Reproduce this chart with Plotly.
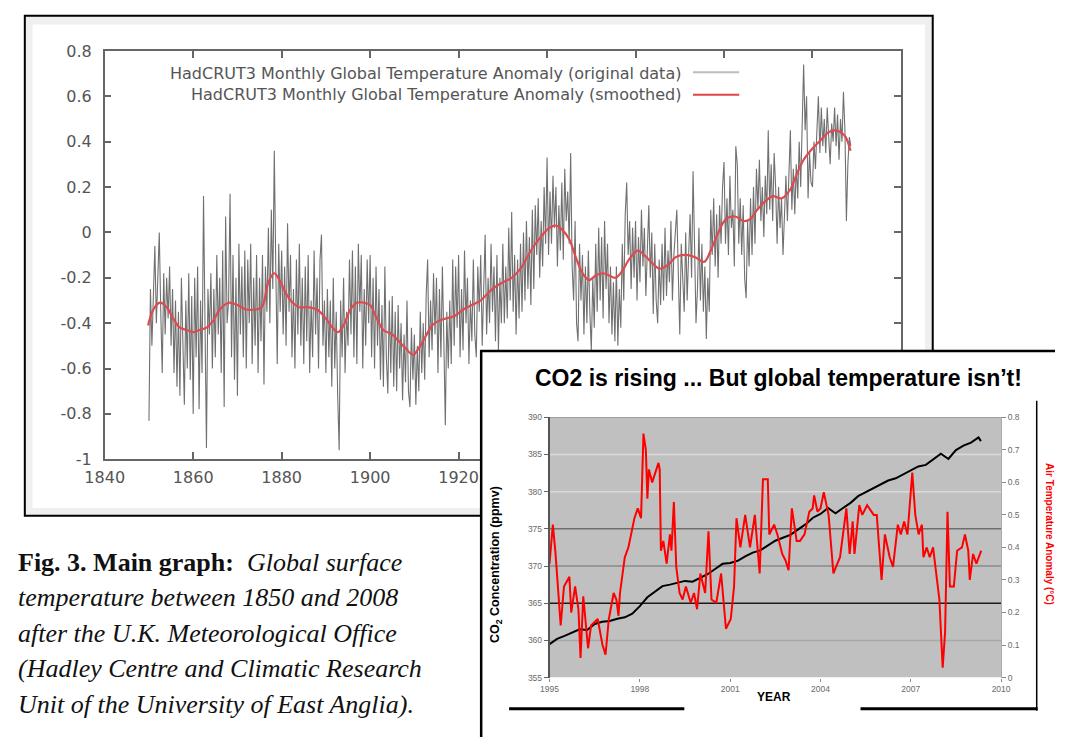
import plotly.graph_objects as go

W, H = 1075, 747

# ---------------- main chart data (HadCRUT3) ----------------
hadcrut_start = 1850
hadcrut_monthly = [
    -0.83, -0.25, -0.50, -0.30, -0.06, -0.40, -0.15, 0.00, -0.35, -0.62, -0.18, -0.45, -0.20, -0.38, -0.15,
    -0.50, -0.25, -0.62, -0.30, -0.68, -0.35, -0.72, -0.20, -0.55, -0.76, -0.30, -0.60, -0.18, -0.65, -0.28,
    -0.80, -0.20, -0.55, -0.15, -0.78, -0.30, -0.62, 0.16, -0.50, -0.95, -0.25, -0.45, -0.18, -0.60, -0.25,
    -0.55, -0.10, -0.45, -0.20, -0.62, -0.08, -0.77, 0.07, -0.40, -0.30, 0.17, -0.55, -0.10, -0.65, -0.20,
    -0.72, -0.05, -0.45, -0.15, -0.55, -0.08, -0.60, -0.12, -0.40, -0.05, -0.58, -0.20, -0.50, -0.10, -0.62,
    -0.20, -0.48, -0.10, -0.67, -0.15, -0.35, 0.02, -0.40, 0.10, -0.25, 0.36, -0.15, -0.58, -0.05, -0.35,
    -0.08, -0.45, -0.15, -0.50, 0.04, -0.35, -0.10, -0.55, -0.25, -0.60, -0.12, -0.45, -0.05, -0.50, -0.20,
    -0.58, -0.15, -0.48, -0.10, -0.62, -0.30, -0.55, -0.08, -0.45, -0.20, -0.60, -0.12, -0.01, -0.50, -0.30,
    -0.62, -0.25, -0.55, -0.30, -0.68, -0.20, -0.60, -0.35, -0.72, -0.96, -0.30, -0.55, -0.20, -0.62, -0.35,
    -0.50, -0.12, -0.45, -0.08, -0.55, -0.15, -0.58, -0.05, -0.35, -0.10, -0.60, -0.25, -0.50, -0.12, -0.40,
    -0.10, -0.55, -0.20, -0.60, -0.15, -0.50, -0.25, -0.65, -0.32, -0.68, -0.15, -0.55, -0.71, -0.30, -0.62,
    -0.28, -0.68, -0.35, -0.70, -0.32, -0.60, -0.40, -0.74, -0.45, -0.66, -0.30, -0.70, -0.77, -0.42, -0.65,
    -0.45, -0.76, -0.50, -0.70, -0.35, -0.62, -0.40, -0.65, -0.28, -0.12, -0.55, -0.30, -0.52, -0.18, -0.45,
    -0.20, -0.62, -0.25, -0.55, -0.15, -0.48, -0.85, -0.35, -0.60, -0.30, -0.58, -0.12, -0.50, -0.15, -0.42,
    -0.10, -0.55, -0.25, -0.52, -0.08, -0.40, -0.20, -0.58, -0.30, -0.48, -0.12, -0.45, -0.55, -0.15, -0.35,
    -0.10, -0.50, -0.18, -0.01, -0.45, -0.20, -0.40, -0.05, -0.35, -0.15, -0.48, -0.10, -0.52, -0.20, -0.40,
    -0.05, -0.40, -0.15, -0.38, 0.02, -0.30, 0.09, -0.35, -0.10, -0.45, -0.12, -0.38, -0.05, -0.35, 0.00,
    -0.30, 0.05, -0.25, -0.02, -0.32, 0.10, -0.25, 0.12, -0.10, 0.15, -0.20, 0.05, -0.15, 0.20, -0.05,
    0.33, -0.10, 0.18, -0.05, 0.25, 0.02, 0.20, -0.15, 0.12, -0.08, 0.22, -0.12, 0.28, 0.05, 0.18,
    -0.05, 0.35, -0.15, -0.30, 0.05, -0.40, -0.48, -0.05, -0.30, -0.10, -0.45, -0.15, -0.40, -0.08, -0.35,
    -0.52, -0.20, -0.42, -0.05, -0.35, 0.02, -0.30, -0.02, -0.38, 0.05, -0.25, -0.05, -0.40, -0.15, -0.45,
    -0.22, -0.48, -0.15, -0.50, -0.25, -0.42, -0.05, -0.30, 0.08, 0.22, -0.10, 0.05, -0.25, 0.02, -0.20,
    0.05, -0.30, -0.02, -0.22, 0.10, -0.15, 0.02, -0.28, -0.05, 0.12, -0.20, 0.00, -0.36, -0.05, -0.30,
    -0.40, -0.12, -0.32, -0.05, -0.30, 0.02, -0.28, -0.08, -0.22, 0.05, -0.30, -0.10, -0.02, 0.10, -0.18,
    -0.45, -0.05, -0.25, -0.35, 0.00, -0.30, -0.10, 0.08, -0.20, 0.27, -0.05, -0.40, -0.25, 0.02, -0.30,
    -0.05, -0.35, -0.15, -0.47, -0.20, -0.35, 0.10, -0.10, 0.15, -0.15, 0.08, -0.20, 0.12, -0.05, 0.20,
    0.31, -0.05, 0.15, -0.10, 0.25, 0.02, 0.10, -0.15, 0.38, 0.30, -0.05, 0.15, -0.10, 0.12, -0.20,
    -0.29, 0.05, -0.15, 0.15, -0.10, 0.20, -0.05, 0.28, 0.10, 0.32, 0.05, 0.20, -0.02, 0.25, 0.08,
    0.45, 0.10, 0.30, 0.05, 0.35, 0.20, -0.05, 0.20, 0.02, 0.15, -0.10, 0.10, 0.25, 0.05, 0.30,
    0.45, 0.10, 0.28, 0.08, 0.30, 0.15, 0.40, 0.20, 0.50, 0.74, 0.45, 0.60, 0.15, 0.35, 0.22,
    0.20, 0.40, 0.28, 0.45, 0.60, 0.35, 0.55, 0.38, 0.50, 0.35, 0.55, 0.42, 0.30, 0.48, 0.40,
    0.55, 0.38, 0.52, 0.32, 0.50, 0.40, 0.62, 0.45, 0.05, 0.30, 0.42, 0.38,
]
hadcrut_years = [hadcrut_start + i / 3 for i in range(len(hadcrut_monthly))]

smooth_years = [
    1849.8, 1851, 1852.5, 1854, 1855.5, 1857, 1858.5, 1860, 1861.5, 1863, 1864.5, 1866, 1868, 1870,
    1872, 1874, 1875.5, 1877, 1878.3, 1879.5, 1881, 1882.5, 1884, 1886, 1888, 1890, 1891.5, 1892.7,
    1894, 1895.5, 1897, 1898.6, 1900, 1901.5, 1903, 1905, 1906.5, 1908, 1909.7, 1911, 1912.5, 1914,
    1915.5, 1917, 1919, 1921, 1923, 1925, 1927.6, 1930, 1932, 1934, 1935.5, 1937, 1939, 1940.5, 1942,
    1943.5, 1945, 1946.5, 1948, 1949.5, 1951, 1952.5, 1954, 1955.5, 1957, 1958.5, 1960.5, 1962,
    1963.5, 1965.5, 1967.5, 1969, 1970.5, 1972, 1973.5, 1975.5, 1977, 1978.5, 1980.5, 1982.5, 1984.5,
    1986, 1987.5, 1989.5, 1991, 1993, 1995, 1996.5, 1998, 2000, 2002, 2003.5, 2005, 2006.5, 2007.5,
    2008.6,
]
smooth_vals = [
    -0.41, -0.34, -0.31, -0.33, -0.38, -0.42, -0.43, -0.44, -0.43, -0.42, -0.39, -0.34, -0.31, -0.32,
    -0.34, -0.34, -0.33, -0.22, -0.18, -0.21, -0.27, -0.31, -0.33, -0.33, -0.34, -0.38, -0.42, -0.44,
    -0.41, -0.34, -0.31, -0.31, -0.32, -0.38, -0.43, -0.45, -0.48, -0.51, -0.54, -0.51, -0.46, -0.41,
    -0.39, -0.38, -0.37, -0.34, -0.32, -0.30, -0.25, -0.22, -0.20, -0.16, -0.11, -0.06, -0.01, 0.02,
    0.03, 0.01, -0.03, -0.11, -0.18, -0.21, -0.19, -0.18, -0.19, -0.20, -0.17, -0.12, -0.08, -0.10,
    -0.13, -0.16, -0.14, -0.11, -0.10, -0.10, -0.11, -0.13, -0.08, -0.01, 0.06, 0.07, 0.05, 0.06,
    0.10, 0.14, 0.16, 0.15, 0.19, 0.26, 0.32, 0.37, 0.41, 0.44, 0.45, 0.44, 0.42, 0.36,
]

main_xticks = [1840, 1860, 1880, 1900, 1920, 1940, 1960, 1980, 2000, 2020]
main_xlabels = ["1840", "1860", "1880", "1900", "1920", "1940", "1960", "1980", "2000", "2020"]
main_yticks = [0.8, 0.6, 0.4, 0.2, 0, -0.2, -0.4, -0.6, -0.8, -1]
main_ylabels = ["0.8", "0.6", "0.4", "0.2", "0", "-0.2", "-0.4", "-0.6", "-0.8", "-1"]
legend_labels = [
    "HadCRUT3 Monthly Global Temperature Anomaly (original data)",
    "HadCRUT3 Monthly Global Temperature Anomaly (smoothed)",
]

# ---------------- inset data (CO2 vs temperature) ----------------
co2_years = [
    1995.00, 1995.25, 1995.50, 1995.75, 1996.00, 1996.25, 1996.50, 1996.75, 1997.00, 1997.25,
    1997.50, 1997.75, 1998.00, 1998.25, 1998.50, 1998.75, 1999.00, 1999.25, 1999.50, 1999.75,
    2000.00, 2000.25, 2000.50, 2000.75, 2001.00, 2001.25, 2001.50, 2001.75, 2002.00, 2002.25,
    2002.50, 2002.75, 2003.00, 2003.25, 2003.50, 2003.75, 2004.00, 2004.25, 2004.50, 2004.75,
    2005.00, 2005.25, 2005.50, 2005.75, 2006.00, 2006.25, 2006.50, 2006.75, 2007.00, 2007.25,
    2007.50, 2007.75, 2008.00, 2008.25, 2008.50, 2008.75, 2009.00, 2009.25, 2009.33,
]
co2_ppmv = [
    359.5, 360.2, 360.6, 361.0, 361.5, 361.4, 362.2, 362.5, 362.6, 362.9,
    363.1, 363.6, 364.6, 365.8, 366.6, 367.3, 367.5, 367.8, 368.0, 367.9,
    368.4, 368.9, 369.6, 370.3, 370.4, 370.7, 371.3, 371.8, 372.1, 372.7,
    373.4, 373.8, 374.2, 374.9, 375.6, 376.5, 377.0, 377.8, 377.1, 377.8,
    378.5, 379.4, 379.9, 380.5, 381.0, 381.5, 381.8, 382.3, 382.8, 383.4,
    383.6, 384.3, 385.1, 384.4, 385.6, 386.2, 386.6, 387.3, 386.8,
]
temp_years = [
    1995.00, 1995.11, 1995.20, 1995.27, 1995.37, 1995.48, 1995.60, 1995.66, 1995.72, 1995.85,
    1995.96, 1996.03, 1996.12, 1996.28, 1996.38, 1996.50, 1996.60, 1996.76, 1996.86, 1996.97,
    1997.13, 1997.22, 1997.29, 1997.34, 1997.50, 1997.62, 1997.72, 1997.82, 1997.93, 1998.04,
    1998.12, 1998.20, 1998.25, 1998.30, 1998.41, 1998.52, 1998.62, 1998.66, 1998.70, 1998.78,
    1998.89, 1999.00, 1999.05, 1999.13, 1999.21, 1999.32, 1999.42, 1999.53, 1999.69, 1999.80,
    1999.90, 2000.01, 2000.17, 2000.28, 2000.38, 2000.54, 2000.70, 2000.86, 2001.02, 2001.13,
    2001.21, 2001.34, 2001.50, 2001.66, 2001.82, 2001.98, 2002.09, 2002.25, 2002.30, 2002.46,
    2002.57, 2002.73, 2002.84, 2002.94, 2003.05, 2003.21, 2003.32, 2003.47, 2003.63, 2003.74,
    2003.79, 2003.90, 2004.00, 2004.11, 2004.27, 2004.43, 2004.65, 2004.86, 2004.97, 2005.07,
    2005.13, 2005.29, 2005.39, 2005.55, 2005.77, 2005.87, 2006.03, 2006.14, 2006.30, 2006.41,
    2006.57, 2006.67, 2006.78, 2006.89, 2007.05, 2007.15, 2007.26, 2007.37, 2007.42, 2007.53,
    2007.63, 2007.74, 2007.85, 2007.95, 2008.06, 2008.14, 2008.22, 2008.30, 2008.43, 2008.54,
    2008.70, 2008.80, 2008.91, 2008.96, 2009.07, 2009.18, 2009.34,
]
temp_anom = [
    0.35, 0.47, 0.38, 0.28, 0.16, 0.28, 0.30, 0.31, 0.20, 0.28,
    0.21, 0.06, 0.25, 0.09, 0.16, 0.17, 0.18, 0.10, 0.07, 0.18,
    0.26, 0.24, 0.19, 0.26, 0.37, 0.40, 0.45, 0.49, 0.52, 0.49,
    0.75, 0.70, 0.55, 0.64, 0.60, 0.63, 0.66, 0.64, 0.39, 0.42,
    0.35, 0.44, 0.39, 0.54, 0.34, 0.26, 0.24, 0.28, 0.23, 0.26,
    0.21, 0.32, 0.26, 0.45, 0.24, 0.23, 0.32, 0.15, 0.18, 0.28,
    0.49, 0.40, 0.50, 0.40, 0.50, 0.32, 0.61, 0.61, 0.44, 0.47,
    0.44, 0.38, 0.36, 0.33, 0.52, 0.42, 0.42, 0.44, 0.51, 0.52,
    0.56, 0.51, 0.52, 0.57, 0.50, 0.32, 0.37, 0.52, 0.38, 0.48,
    0.38, 0.53, 0.50, 0.53, 0.50, 0.50, 0.30, 0.44, 0.37, 0.34,
    0.47, 0.44, 0.48, 0.44, 0.63, 0.50, 0.44, 0.47, 0.37, 0.40,
    0.37, 0.40, 0.32, 0.24, 0.03, 0.14, 0.51, 0.28, 0.28, 0.39,
    0.40, 0.44, 0.39, 0.30, 0.38, 0.35, 0.39,
]
inset_xticks = [1995, 1998, 2001, 2004, 2007, 2010]
inset_xlabels = ["1995", "1998", "2001", "2004", "2007", "2010"]
co2_ticks = [355, 360, 365, 370, 375, 380, 385, 390]
temp_ticks = [0, 0.1, 0.2, 0.3, 0.4, 0.5, 0.6, 0.7, 0.8]
grid_levels = [360, 365, 370, 375, 380, 385, 390]
grid_colors = ["#a8a8a8", "#1a1a1a", "#8a8a8a", "#6e6e6e", "#dadada", "#dadada", "#8c8c8c"]

caption_lines = [
    "<b>Fig. 3. Main graph:</b>\u00a0 <i>Global surface</i>",
    "<i>temperature between 1850 and 2008</i>",
    "<i>after the U.K. Meteorological Office</i>",
    "<i>(Hadley Centre and Climatic Research</i>",
    "<i>Unit of the University of East Anglia).</i>",
]


def px(x):
    return x / W


def py(y):
    return 1 - y / H


fig = go.Figure()

fig.add_trace(go.Scatter(x=hadcrut_years, y=hadcrut_monthly, mode="lines",
                         line=dict(color="#707070", width=1.1), name=legend_labels[0],
                         showlegend=False, xaxis="x", yaxis="y"))
fig.add_trace(go.Scatter(x=smooth_years, y=smooth_vals, mode="lines",
                         line=dict(color="#dc4b4f", width=2.2, shape="spline"), name=legend_labels[1],
                         showlegend=False, xaxis="x", yaxis="y"))
# empty subplot whose white background hides the main chart behind the inset
fig.add_trace(go.Scatter(x=[None], y=[None], mode="lines", showlegend=False,
                         hoverinfo="skip", xaxis="x2", yaxis="y2"))
fig.add_trace(go.Scatter(x=co2_years, y=co2_ppmv, mode="lines",
                         line=dict(color="#000000", width=2), name="CO2",
                         showlegend=False, xaxis="x3", yaxis="y3"))
fig.add_trace(go.Scatter(x=temp_years, y=temp_anom, mode="lines",
                         line=dict(color="#ff0000", width=2), name="Temperature",
                         showlegend=False, xaxis="x3", yaxis="y4"))

main_font = dict(family="DejaVu Sans", size=16, color="#555555")
inset_font = dict(family="Liberation Sans", size=8.5, color="#6a6a6a")

fig.update_layout(
    width=W, height=H,
    margin=dict(l=0, r=0, t=0, b=0),
    paper_bgcolor="white", plot_bgcolor="white",
    showlegend=False,
    xaxis=dict(domain=[px(88), px(915)], range=[1840, 2020], anchor="y",
               tickvals=main_xticks, ticktext=main_xlabels, ticks="inside", ticklen=7,
               tickwidth=1.5, tickcolor="#666666", showline=True, linecolor="#666666",
               linewidth=1.5, mirror="allticks", showgrid=False, zeroline=False,
               tickfont=main_font, ticklabelstandoff=3),
    yaxis=dict(domain=[py(462), py(43)], range=[-1, 0.8], anchor="x",
               tickvals=main_yticks, ticktext=main_ylabels, ticks="inside", ticklen=7,
               tickwidth=1.5, tickcolor="#666666", showline=True, linecolor="#666666",
               linewidth=1.5, mirror="allticks", showgrid=False, zeroline=False,
               tickfont=main_font, ticklabelstandoff=8),
    xaxis2=dict(domain=[px(479), 1], range=[0, 1], anchor="y2", visible=False),
    yaxis2=dict(domain=[0, py(351)], range=[0, 1], anchor="x2", visible=False),
    xaxis3=dict(domain=[px(550), px(1019)], range=[1995, 2010], anchor="y3",
                tickvals=inset_xticks, ticktext=inset_xlabels, ticks="outside", ticklen=3,
                tickcolor="#888888", showline=False, showgrid=False, zeroline=False,
                tickfont=inset_font),
    yaxis3=dict(domain=[py(686), py(419)], range=[355, 390], anchor="x3",
                tickvals=co2_ticks, ticks="outside", ticklen=4, tickcolor="#666666",
                showline=True, linecolor="#555555", linewidth=1.5, showgrid=False,
                zeroline=False, tickfont=inset_font),
    yaxis4=dict(range=[0, 0.8], overlaying="y3", side="right", anchor="x3",
                tickvals=temp_ticks, ticks="outside", ticklen=4, tickcolor="#888888",
                showline=True, linecolor="#aaaaaa", linewidth=1, showgrid=False,
                zeroline=False, tickfont=inset_font),
)

shapes = [
    # main figure frame
    dict(type="rect", xref="paper", yref="paper", x0=px(5), x1=px(948), y0=py(520), y1=py(7),
         fillcolor="#efefef", line=dict(color="black", width=2), layer="below"),
    dict(type="rect", xref="paper", yref="paper", x0=px(13), x1=px(940), y0=py(512), y1=py(16),
         fillcolor="white", line=dict(width=0), layer="below"),
    # legend samples (line drawn after the text, gnuplot style)
    dict(type="line", xref="paper", yref="paper", x0=px(699), x1=px(747), y0=py(65), y1=py(65),
         line=dict(color="#bdbdbd", width=2), layer="above"),
    dict(type="line", xref="paper", yref="paper", x0=px(699), x1=px(747), y0=py(88), y1=py(88),
         line=dict(color="#e04448", width=2), layer="above"),
    # inset plot area background
    dict(type="rect", xref="x3", yref="y3", x0=1995, x1=2010, y0=355, y1=390,
         fillcolor="#c0c0c0", line=dict(width=0), layer="below"),
]
for lvl, col in zip(grid_levels, grid_colors):
    shapes.append(dict(type="line", xref="x3", yref="y3", x0=1995, x1=2010, y0=lvl, y1=lvl,
                       line=dict(color=col, width=1.5), layer="below"))
shapes += [
    # inset frame and rules
    dict(type="line", xref="paper", yref="paper", x0=px(479), x1=px(479), y0=0, y1=py(350),
         line=dict(color="black", width=2.5), layer="above"),
    dict(type="line", xref="paper", yref="paper", x0=px(478), x1=1, y0=py(351), y1=py(351),
         line=dict(color="black", width=2.5), layer="above"),
    dict(type="line", xref="paper", yref="paper", x0=px(1056), x1=px(1056), y0=py(720), y1=py(402),
         line=dict(color="black", width=1.5), layer="above"),
    dict(type="line", xref="paper", yref="paper", x0=px(508), x1=px(690), y0=py(718), y1=py(718),
         line=dict(color="black", width=3), layer="above"),
    dict(type="line", xref="paper", yref="paper", x0=px(873), x1=px(1057), y0=py(718), y1=py(718),
         line=dict(color="black", width=3), layer="above"),
]
fig.update_layout(shapes=shapes)

ann = []
for i, lab in enumerate(legend_labels):
    ann.append(dict(text=lab, xref="paper", yref="paper", x=px(689), y=py(66 + 22 * i),
                    xanchor="right", yanchor="middle", showarrow=False,
                    font=dict(family="DejaVu Sans", size=16, color="#555555")))
for i, line in enumerate(caption_lines):
    ann.append(dict(text=line, xref="paper", yref="paper", x=px(-4), y=py(568 + 36.3 * i),
                    xanchor="left", yanchor="middle", showarrow=False,
                    font=dict(family="Liberation Serif", size=26, color="#111111")))
ann += [
    dict(text="<b>CO2 is rising ... But global temperature isn\u2019t!</b>", xref="paper", yref="paper",
         x=px(788), y=py(379), xanchor="center", yanchor="middle", showarrow=False,
         font=dict(family="Liberation Sans", size=23, color="black")),
    dict(text="<b>YEAR</b>", xref="paper", yref="paper", x=px(783), y=py(706),
         xanchor="center", yanchor="middle", showarrow=False,
         font=dict(family="Liberation Sans", size=12, color="black")),
    dict(text="<b>CO<sub>2</sub> Concentration (ppmv)</b>", xref="paper", yref="paper",
         x=px(494), y=py(570), xanchor="center", yanchor="middle", showarrow=False, textangle=-90,
         font=dict(family="Liberation Sans", size=12.5, color="black")),
    dict(text="<b>Air Temperature Anomaly (\u00b0C)</b>", xref="paper", yref="paper",
         x=px(1070), y=py(539), xanchor="center", yanchor="middle", showarrow=False, textangle=90,
         font=dict(family="Liberation Sans", size=10, color="#ff0000")),
]
fig.update_layout(annotations=ann)

pin = ("document.documentElement.style.margin='0';document.body.style.margin='0';"
       "document.body.style.overflow='hidden';"
       "var d=document.getElementById('{plot_id}');"
       "d.style.position='fixed';d.style.left='0px';d.style.top='0px';")
fig.write_html("out.html", post_script=pin, config={"displayModeBar": False})
